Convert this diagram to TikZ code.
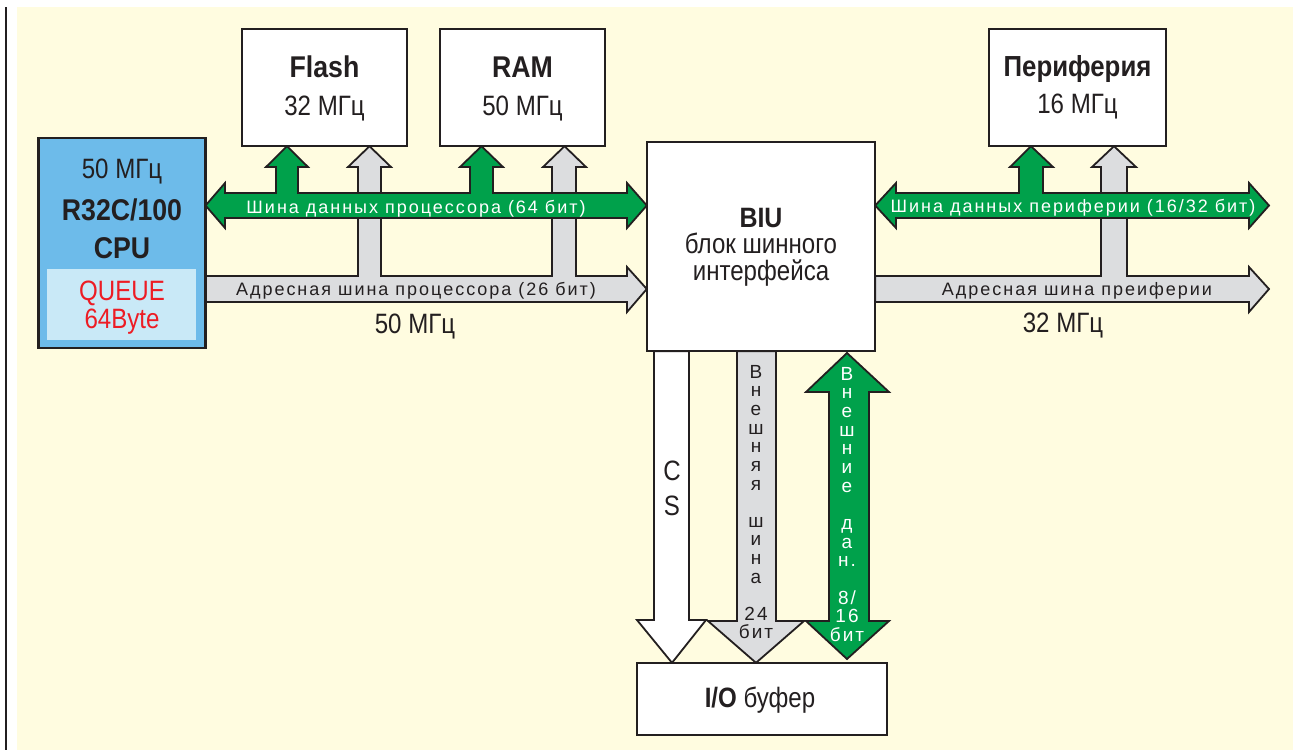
\documentclass[tikz,border=0pt]{standalone}
\usepackage{fontspec}
\setmainfont{Liberation Sans}
\newfontfamily\narrowfont[FakeStretch=0.86]{Liberation Sans}
\newfontfamily\titlefont[FakeStretch=0.89]{Liberation Sans}
\newfontfamily\busfont[LetterSpace=11]{Liberation Sans}
\usetikzlibrary{calc}
\definecolor{bgyellow}{HTML}{FFFCE0}
\definecolor{busgreen}{HTML}{00A14B}
\definecolor{busgray}{HTML}{DCDDDF}
\definecolor{cpublue}{HTML}{6DBBEA}
\definecolor{queueblue}{HTML}{C9E9F7}
\definecolor{queuered}{HTML}{ED1C24}
\definecolor{ink}{HTML}{231F20}
\tikzset{
    box/.style={draw=ink, line width=2.4pt, fill=white, inner sep=0pt},
    databus/.style={draw=ink, line width=1.8pt, fill=busgreen, line join=miter},
    addrbus/.style={draw=ink, line width=1.8pt, fill=busgray, line join=miter},
    csbus/.style={draw=ink, line width=1.8pt, fill=white, line join=miter},
    title/.style={font=\titlefont\bfseries\fontsize{30}{30}\selectfont, text=ink, anchor=base, inner sep=0pt},
    freq/.style={font=\narrowfont\fontsize{28}{28}\selectfont, text=ink, anchor=base, inner sep=0pt},
    buslabel/.style={font=\busfont\fontsize{18}{18}\selectfont, anchor=base, inner sep=0pt},
    vletter/.style={font=\busfont\fontsize{19}{19}\selectfont, anchor=base, inner sep=0pt}
}

\begin{document}
\begin{tikzpicture}[x=1pt, y=-1pt]
    \useasboundingbox (0,0) rectangle (1293,750);
    \fill[bgyellow] (17,7) rectangle (1293,750);
    \draw[ink, line width=2.3pt] (6.2,7) -- (6.2,750);

    % boxes (placed first, drawn again on top of the buses)
    \path (122,243) node[minimum width=166.7pt, minimum height=210pt] (cpu) {};
    \path (324.5,87.5) node[minimum width=165pt, minimum height=117pt] (flash) {};
    \path (522.5,87.5) node[minimum width=165pt, minimum height=117pt] (ram) {};
    \path (1077.5,87.5) node[minimum width=177pt, minimum height=117pt] (periph) {};
    \path (761,246.5) node[minimum width=228pt, minimum height=209pt] (biu) {};
    \path (762,699) node[minimum width=250pt, minimum height=72pt] (io) {};

    % processor address bus
    \draw[addrbus] (cpu.east |- 0,276) -- (358,276) -- (358,167) -- (348,167)
        -- (369.5,0 |- flash.south) -- (391,167) -- (381,167) -- (381,276)
        -- (552,276) -- (552,167) -- (543,167) -- (564.5,0 |- ram.south)
        -- (586,167) -- (576,167) -- (576,276) -- (627,276) -- (627,267)
        -- (biu.west |- 0,289) -- (627,312) -- (627,302) -- (cpu.east |- 0,302) -- cycle;
    % processor data bus
    \draw[databus] (cpu.east |- 0,205.5) -- (225,183) -- (225,193) -- (276,193)
        -- (276,167) -- (266,167) -- (287,0 |- flash.south) -- (308,167) -- (298,167)
        -- (298,193) -- (470,193) -- (470,167) -- (460,167) -- (481.5,0 |- ram.south)
        -- (503,167) -- (493,167) -- (493,193) -- (627,193) -- (627,183)
        -- (biu.west |- 0,205.5) -- (627,228) -- (627,218) -- (225,218) -- (225,228) -- cycle;
    % peripheral address bus
    \draw[addrbus] (biu.east |- 0,276) -- (1101,276) -- (1101,167) -- (1092,167)
        -- (1114,0 |- periph.south) -- (1136,167) -- (1127,167) -- (1127,276)
        -- (1249,276) -- (1249,267) -- (1269,289) -- (1249,312) -- (1249,302)
        -- (biu.east |- 0,302) -- cycle;
    % peripheral data bus
    \draw[databus] (biu.east |- 0,205.5) -- (896,183) -- (896,193) -- (1019,193)
        -- (1019,167) -- (1010,167) -- (1031,0 |- periph.south) -- (1053,167) -- (1043,167)
        -- (1043,193) -- (1249,193) -- (1249,183) -- (1269,205.5) -- (1249,228)
        -- (1249,218) -- (896,218) -- (896,228) -- cycle;
    % buses to the I/O buffer
    \draw[csbus] (654,0 |- biu.south) -- (654,620) -- (637,620) -- (672,0 |- io.north)
        -- (706,620) -- (689,620) -- (689,0 |- biu.south) -- cycle;
    \draw[addrbus] (737,0 |- biu.south) -- (737,621) -- (708,621) -- (756,0 |- io.north)
        -- (804,621) -- (776,621) -- (776,0 |- biu.south) -- cycle;
    \draw[databus] (847,353) -- (889,392) -- (869,392) -- (869,621) -- (889,621)
        -- (847,659) -- (806,621) -- (829,621) -- (829,392) -- (806,392) -- cycle;

    % boxes on top
    \node[box, fill=cpublue, line width=2.6pt, minimum width=166.7pt, minimum height=210pt] at (cpu) {};
    \node[fill=queueblue, inner sep=0pt, minimum width=149pt, minimum height=71pt] (queue) at (121.5,304.5) {};
    \node[box, minimum width=165pt, minimum height=117pt] at (flash) {};
    \node[box, minimum width=165pt, minimum height=117pt] at (ram) {};
    \node[box, minimum width=177pt, minimum height=117pt] at (periph) {};
    \node[box, minimum width=228pt, minimum height=209pt] at (biu) {};
    \node[box, minimum width=250pt, minimum height=72pt] at (io) {};

    % texts
    \node[freq] (cpufreq) at (122,178) {50 МГц};
    \node[title] (cpuname) at (122,220) {R32C/100};
    \node[title] (cputype) at (122,258) {CPU};
    \node[freq, text=queuered] (queuename) at (122,300) {QUEUE};
    \node[freq, text=queuered] (queuesize) at (122,328) {64Byte};
    \node[title] (flashname) at (324.5,77) {Flash};
    \node[freq] (flashfreq) at (324.5,115) {32 МГц};
    \node[title] (ramname) at (522.5,77) {RAM};
    \node[freq] (ramfreq) at (522.5,115) {50 МГц};
    \node[title, font=\titlefont\bfseries\fontsize{29}{29}\selectfont] (periphname) at (1077.5,76) {Периферия};
    \node[freq] (periphfreq) at (1077.5,113) {16 МГц};
    \node[title, font=\titlefont\bfseries\fontsize{28}{28}\selectfont] (biuname) at (761,227) {BIU};
    \node[freq] (biutext1) at (761,253) {блок шинного};
    \node[freq] (biutext2) at (761,280) {интерфейса};
    \node[freq] (iotext) at (760,707) {\textbf{I/O} буфер};
    \node[buslabel, text=white] (cpudatalbl) at (416,213) {Шина данных процессора (64 бит)};
    \node[buslabel, text=ink] (cpuaddrlbl) at (416,295) {Адресная шина процессора (26 бит)};
    \node[buslabel, text=white] (perdatalbl) at (1073,212) {Шина данных периферии (16/32 бит)};
    \node[buslabel, text=ink] (peraddrlbl) at (1077,295) {Адресная шина преиферии};
    \node[freq] (cpubusfreq) at (415,333) {50 МГц};
    \node[freq] (perbusfreq) at (1063,332) {32 МГц};
    \node[freq] (csc) at (672,480) {C};
    \node[freq] (css) at (672,515) {S};
    \foreach \n/\c in {0/В,1/н,2/е,3/ш,4/н,5/я,6/я,8/ш,9/и,10/н,11/а,13/24,14/бит}
        \node[vletter, text=ink] (ext\n) at ({756},{378.3+18.62*\n}) {\c};
    \foreach \n/\c in {0/В,1/н,2/е,3/ш,4/н,5/и,6/е,8/д,9/а,10/н.,12/8\slash,13/16,14/бит}
        \node[vletter, text=white] (dat\n) at ({847},{380+18.69*\n}) {\c};
\end{tikzpicture}
\end{document}
